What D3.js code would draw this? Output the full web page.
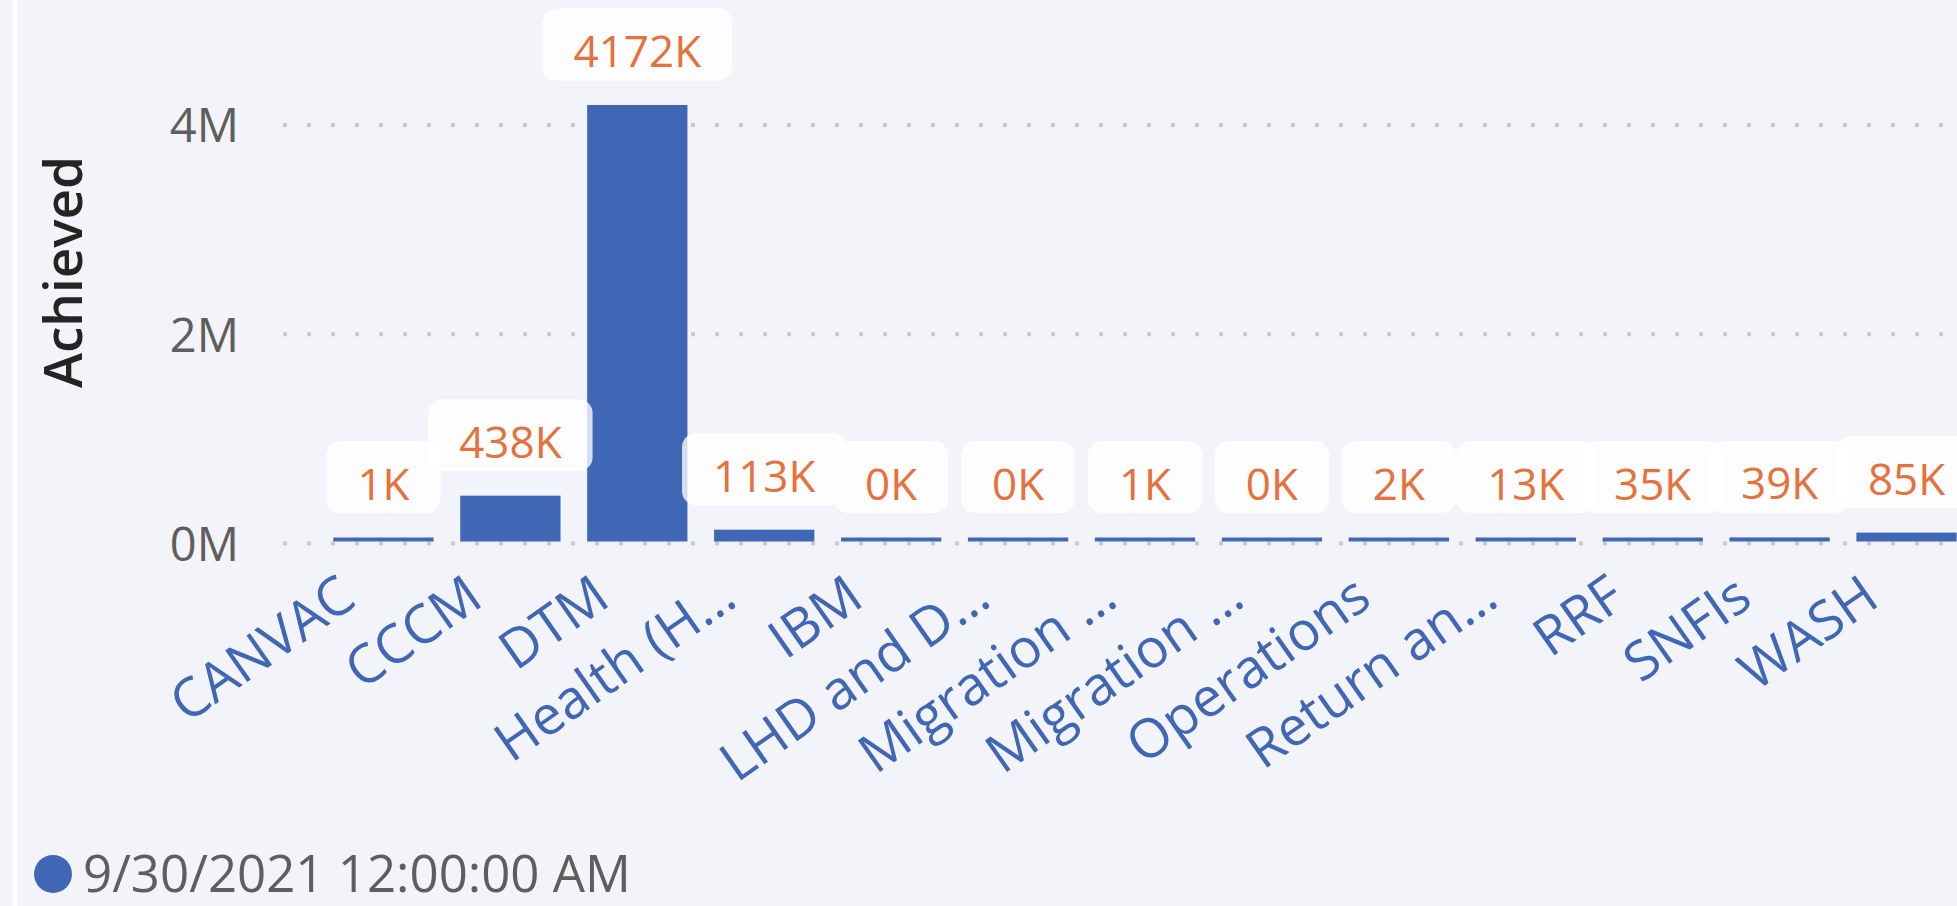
<!DOCTYPE html>
<html>
<head>
<meta charset="utf-8">
<script src="https://cdn.jsdelivr.net/npm/d3@7"></script>
<style>
  html, body { margin: 0; padding: 0; background: #F3F4F9; overflow: hidden; }
  svg { display: block; }
  text { font-family: "Open Sans", "Noto Sans", sans-serif; }
</style>
</head>
<body>
<svg id="chart" width="1957" height="906"></svg>
<script>
// ---- data ----
const categories = ["CANVAC", "CCCM", "DTM", "Health (H…", "IBM", "LHD and D…", "Migration …", "Migration …", "Operations", "Return an…", "RRF", "SNFIs", "WASH"];
const achieved = [1000, 438000, 4172000, 113000, 0, 0, 1000, 0, 2000, 13000, 35000, 39000, 85000];
const yTickValues = [0, 2000000, 4000000];
const yTickLabels = ["0M", "2M", "4M"];
const yTitle = "Achieved";
const seriesName = "9/30/2021 12:00:00 AM";

// ---- styles ----
const W = 1957, H = 906;
const barColor = "#4066B6";
const labelColor = "#E8703A";
const svg = d3.select("#chart");

svg.append("rect").attr("width", W).attr("height", H).attr("fill", "#F3F4F9");
svg.append("rect").attr("x", 13).attr("y", 0).attr("width", 4).attr("height", H).attr("fill", "#FFFFFF");

const idx = d3.range(categories.length);
const x = d3.scaleBand().domain(idx).range([320, 1970]).paddingInner(0.21).paddingOuter(0.105);
const y = d3.scaleLinear().domain([0, 4000000]).range([541.5, 123]);

// gridlines
svg.append("g").selectAll("line").data(yTickValues).join("line")
  .attr("x1", 283).attr("x2", W)
  .attr("y1", d => y(d) + 2).attr("y2", d => y(d) + 2)
  .attr("stroke", "#C8C8C8").attr("stroke-width", 4)
  .attr("stroke-dasharray", "4 20");

// y axis
const yAxis = svg.append("g").attr("transform", "translate(239,0)")
  .call(d3.axisLeft(y).tickValues(yTickValues).tickFormat((d, i) => yTickLabels[i]).tickSize(0).tickPadding(0));
yAxis.select(".domain").remove();
yAxis.selectAll("text")
  .attr("x", 0).attr("dy", "0.36em").attr("transform", "translate(0,2)")
  .attr("font-size", 47).attr("fill", "#605E5C")
  .style("font-family", "'Open Sans', sans-serif");

// y title
svg.append("text")
  .attr("transform", "translate(82,272) rotate(-90)")
  .attr("text-anchor", "middle")
  .attr("font-size", 53).attr("font-weight", 600).attr("fill", "#252423")
  .text(yTitle);

// bars
const minH = 4;
const barTop = (v) => y(0) - Math.max(y(0) - y(v), minH);
svg.append("g").selectAll("rect").data(idx).join("rect")
  .attr("x", i => x(i)).attr("width", x.bandwidth())
  .attr("y", i => barTop(achieved[i]))
  .attr("height", i => y(0) - barTop(achieved[i]))
  .attr("fill", barColor);

// x axis
const xAxis = svg.append("g").attr("transform", `translate(0,${y(0)})`)
  .call(d3.axisBottom(x).tickFormat(i => categories[i]).tickSize(0));
xAxis.select(".domain").remove();
xAxis.selectAll("text")
  .attr("x", 0).attr("y", 0).attr("dy", 0)
  .attr("text-anchor", "end")
  .attr("transform", `translate(-25,${604 - y(0)}) rotate(-35)`)
  .attr("font-size", 54).attr("fill", barColor)
  .style("font-family", "'Open Sans', sans-serif");

// data labels
const fmt = v => Math.round(v / 1000) + "K";
const lg = svg.append("g");
idx.forEach(i => {
  const g = lg.append("g");
  const cx = x(i) + x.bandwidth() / 2;
  const boxBottom = barTop(achieved[i]) - 24.5;
  const t = g.append("text")
    .attr("x", cx).attr("y", boxBottom - 13.5)
    .attr("text-anchor", "middle")
    .attr("font-size", 44).attr("fill", labelColor)
    .text(fmt(achieved[i]));
  const tw = t.node().getComputedTextLength();
  g.insert("rect", "text")
    .attr("x", cx - tw / 2 - 31).attr("width", tw + 62)
    .attr("y", boxBottom - 72).attr("height", 72)
    .attr("rx", 14).attr("ry", 14)
    .attr("fill", "#FFFFFF").attr("fill-opacity", 0.78);
});

// legend
svg.append("circle").attr("cx", 53).attr("cy", 874).attr("r", 19).attr("fill", barColor);
svg.append("text").attr("x", 83).attr("y", 892)
  .attr("font-size", 51).attr("fill", "#605E5C")
  .text(seriesName);
</script>
</body>
</html>
